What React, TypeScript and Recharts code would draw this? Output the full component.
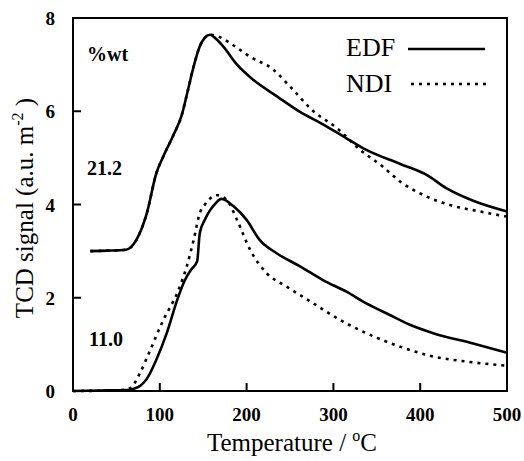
import { LineChart, Line, XAxis, YAxis } from 'recharts'

// upper pair (21.2 %wt)
const edfHighT = [20, 40, 61, 73, 85, 96, 104, 116, 125, 133, 139, 146, 152, 158, 165, 173, 189, 208, 235, 262, 288, 315, 338, 377, 407, 430, 461, 500]
const edfHighY = [3.0, 3.01, 3.03, 3.24, 3.81, 4.67, 5.03, 5.5, 5.9, 6.5, 6.96, 7.39, 7.58, 7.64, 7.55, 7.39, 7.0, 6.67, 6.32, 5.98, 5.72, 5.42, 5.17, 4.87, 4.64, 4.35, 4.08, 3.85]
const ndiHighT = [20, 40, 61, 73, 85, 96, 104, 116, 125, 133, 139, 146, 152, 158, 169, 186, 204, 231, 250, 277, 304, 331, 357, 377, 404, 434, 469, 500]
const ndiHighY = [3.0, 3.01, 3.03, 3.24, 3.81, 4.67, 5.03, 5.5, 5.9, 6.5, 6.96, 7.39, 7.58, 7.64, 7.59, 7.4, 7.17, 6.89, 6.53, 6.0, 5.64, 5.17, 4.81, 4.49, 4.2, 3.99, 3.85, 3.74]

// lower pair (11.0 %wt)
const edfLowT = [0, 30, 62, 70, 78, 85, 96, 108, 120, 129, 136, 143, 146, 152, 158, 164, 171, 185, 200, 215, 235, 262, 288, 315, 338, 365, 388, 415, 461, 500]
const edfLowY = [0, 0.01, 0.02, 0.05, 0.12, 0.26, 0.67, 1.24, 1.95, 2.38, 2.6, 2.78, 3.38, 3.68, 3.88, 4.02, 4.12, 3.96, 3.67, 3.24, 2.95, 2.67, 2.38, 2.13, 1.88, 1.63, 1.42, 1.24, 1.02, 0.82]
const ndiLowT = [0, 40, 60, 66, 77, 89, 104, 120, 131, 139, 146, 152, 158, 166, 177, 189, 204, 223, 246, 277, 308, 338, 377, 415, 454, 500]
const ndiLowY = [0, 0.01, 0.03, 0.06, 0.38, 0.88, 1.52, 2.1, 2.67, 3.24, 3.81, 4.0, 4.13, 4.2, 4.1, 3.67, 3.03, 2.53, 2.24, 1.88, 1.52, 1.24, 0.95, 0.74, 0.63, 0.54]

const xTicks = [0, 100, 200, 300, 400, 500]
const yTicks = [0, 2, 4, 6, 8]

const zip = (t: number[], y: number[]) => t.map((x, i) => ({ t: x, v: y[i] }))

const FONT = '"Liberation Serif", "Times New Roman", serif'

// ticks point into the plot, so draw line + label ourselves
const BottomTick = ({ x, y, payload }: any) => (
  <g>
    {payload.value !== 0 && payload.value !== 500 && (
      <line x1={x} x2={x} y1={y} y2={y - 8} stroke="#000" strokeWidth={2} />
    )}
    <text x={x} y={y + 30} textAnchor="middle" fontFamily={FONT} fontSize={19} fontWeight={700} fill="#000">
      {payload.value}
    </text>
  </g>
)

const LeftTick = ({ x, y, payload }: any) => (
  <g>
    {payload.value !== 0 && payload.value !== 8 && (
      <line x1={x} x2={x + 8} y1={y} y2={y} stroke="#000" strokeWidth={2} />
    )}
    <text x={x - 18} y={y + 7} textAnchor="end" fontFamily={FONT} fontSize={19} fontWeight={700} fill="#000">
      {payload.value}
    </text>
  </g>
)

export default function App() {
  return (
    <div style={{ position: 'absolute', left: 0, top: 0, width: 524, height: 461, background: '#fff' }}>
      <LineChart width={524} height={461} margin={{ top: 17, right: 16, bottom: 0, left: 0 }}>
        <XAxis
          type="number"
          dataKey="t"
          domain={[0, 500]}
          ticks={xTicks}
          height={70}
          allowDuplicatedCategory={false}
          axisLine={{ stroke: '#000', strokeWidth: 2 }}
          tickLine={false}
          tickSize={0}
          tickMargin={0}
          tick={<BottomTick />}
        />
        <XAxis xAxisId="top" orientation="top" type="number" domain={[0, 500]} height={1} tick={false} tickLine={false} axisLine={{ stroke: '#000', strokeWidth: 2 }} />
        <YAxis
          type="number"
          domain={[0, 8]}
          ticks={yTicks}
          width={73}
          axisLine={{ stroke: '#000', strokeWidth: 2 }}
          tickLine={false}
          tickSize={0}
          tickMargin={0}
          tick={<LeftTick />}
        />
        <YAxis yAxisId="right" orientation="right" type="number" domain={[0, 8]} width={1} tick={false} tickLine={false} axisLine={{ stroke: '#000', strokeWidth: 2 }} />

        <Line data={zip(ndiHighT, ndiHighY)} dataKey="v" type="monotone" stroke="#000" strokeWidth={2.6} strokeDasharray="3 5" dot={false} isAnimationActive={false} />
        <Line data={zip(edfHighT, edfHighY)} dataKey="v" type="monotone" stroke="#000" strokeWidth={2.6} dot={false} isAnimationActive={false} />
        <Line data={zip(ndiLowT, ndiLowY)} dataKey="v" type="monotone" stroke="#000" strokeWidth={2.6} strokeDasharray="3 5" dot={false} isAnimationActive={false} />
        <Line data={zip(edfLowT, edfLowY)} dataKey="v" type="monotone" stroke="#000" strokeWidth={2.6} dot={false} isAnimationActive={false} />
      </LineChart>

      {/* frame, labels, legend and annotations on an overlay */}
      <svg width={524} height={461} style={{ position: 'absolute', left: 0, top: 0, pointerEvents: 'none' }}>
        <rect x={73} y={18} width={434} height={373} fill="none" stroke="#000" strokeWidth={2} />

        <text x={87} y={61} fontFamily={FONT} fontSize={20} fontWeight={700}>%wt</text>
        <text x={87} y={175} fontFamily={FONT} fontSize={20} fontWeight={700}>21.2</text>
        <text x={89} y={346} fontFamily={FONT} fontSize={20} fontWeight={700}>11.0</text>

        <text x={346} y={56} fontFamily={FONT} fontSize={26}>EDF</text>
        <line x1={408} x2={485} y1={49} y2={49} stroke="#000" strokeWidth={2.6} />
        <text x={346} y={92} fontFamily={FONT} fontSize={26}>NDI</text>
        <line x1={411} x2={487} y1={84} y2={84} stroke="#000" strokeWidth={2.6} strokeDasharray="3 5" />

        <text x={292} y={451} textAnchor="middle" fontFamily={FONT} fontSize={25}>
          Temperature / <tspan fontSize={16} dy={-10}>o</tspan><tspan dy={10}>C</tspan>
        </text>
        <text transform="translate(33,208) rotate(-90)" textAnchor="middle" fontFamily={FONT} fontSize={25}>
          TCD signal (a.u. m<tspan fontSize={16} dy={-10}>-2</tspan><tspan dy={10}> )</tspan>
        </text>
      </svg>
    </div>
  )
}
